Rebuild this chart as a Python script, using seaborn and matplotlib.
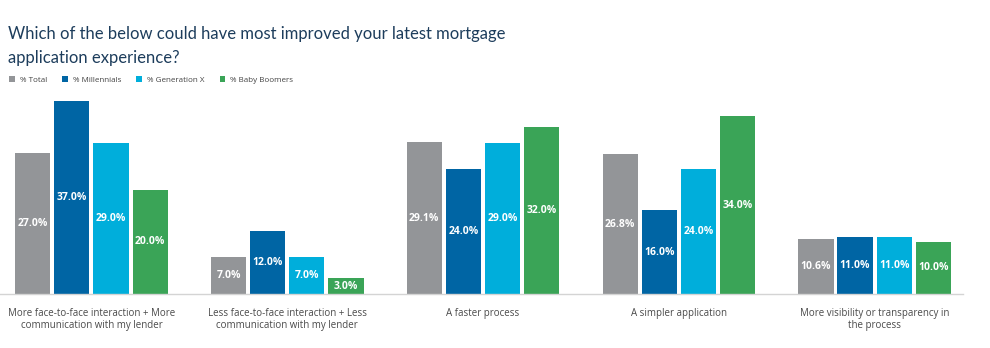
import matplotlib
matplotlib.use("Agg")
import matplotlib.pyplot as plt
import seaborn as sns
import pandas as pd
from matplotlib.patches import Patch

categories = [
    "More face-to-face interaction + More\ncommunication with my lender",
    "Less face-to-face interaction + Less\ncommunication with my lender",
    "A faster process",
    "A simpler application",
    "More visibility or transparency in\nthe process",
]
series = ["% Total", "% Millennials", "% Generation X", "% Baby Boomers"]
total = [27.0, 7.0, 29.1, 26.8, 10.6]
millennials = [37.0, 12.0, 24.0, 16.0, 11.0]
gen_x = [29.0, 7.0, 29.0, 24.0, 11.0]
boomers = [20.0, 3.0, 32.0, 34.0, 10.0]
colors = ["#939598", "#0065a4", "#00aedb", "#3aa457"]

rows = []
for s, vals in zip(series, [total, millennials, gen_x, boomers]):
    for c, v in zip(categories, vals):
        rows.append({"category": c, "series": s, "value": v})
df = pd.DataFrame(rows)

sns.set_theme(style="white")
plt.rcParams["font.family"] = ["Open Sans", "DejaVu Sans"]

fig = plt.figure(figsize=(9.9, 3.48), dpi=100)
ax = fig.add_axes([0.0, 54 / 348, 963 / 990, (294 - 100) / 348])

sns.barplot(data=df, x="category", y="value", hue="series", order=categories,
            hue_order=series, palette=colors, width=0.8, gap=0.1,
            saturation=1, ax=ax, legend=False, errorbar=None,
            edgecolor="none")

for cont in ax.containers:
    for bar in cont:
        h = bar.get_height()
        ax.text(bar.get_x() + bar.get_width() / 2, h / 2, f"{h:.1f}%",
                ha="center", va="center", color="white", fontsize=7.5,
                fontweight="bold")

ax.set_xlim(-0.467, 4.451)
ax.set_ylim(0, 37.16)
ax.set_xlabel("")
ax.set_ylabel("")
ax.set_yticks([])
for sp in ["top", "right", "left"]:
    ax.spines[sp].set_visible(False)
ax.spines["bottom"].set_color("#d4d4d4")
ax.spines["bottom"].set_linewidth(1.0)
ax.tick_params(axis="x", length=0, pad=10, labelsize=7.0, labelcolor="#4a4a4a")
for lbl in ax.get_xticklabels():
    lbl.set_linespacing(1.1)

fig.text(8 / 990, 1 - 26 / 348,
         "Which of the below could have most improved your latest mortgage\napplication experience?",
         ha="left", va="top", fontsize=12, color="#1d3d5c", linespacing=1.6,
         family=["Lato", "DejaVu Sans"])

handles = [Patch(facecolor=c, edgecolor="none") for c in colors]
fig.legend(handles, series, loc="center left", bbox_to_anchor=(2 / 990, 1 - 80 / 348),
           ncol=4, frameon=False, fontsize=5.8, handlelength=0.7, handleheight=0.7,
           handletextpad=0.6, columnspacing=1.9, labelcolor="#444444")

fig.savefig("out.png", dpi=100, facecolor="white")
